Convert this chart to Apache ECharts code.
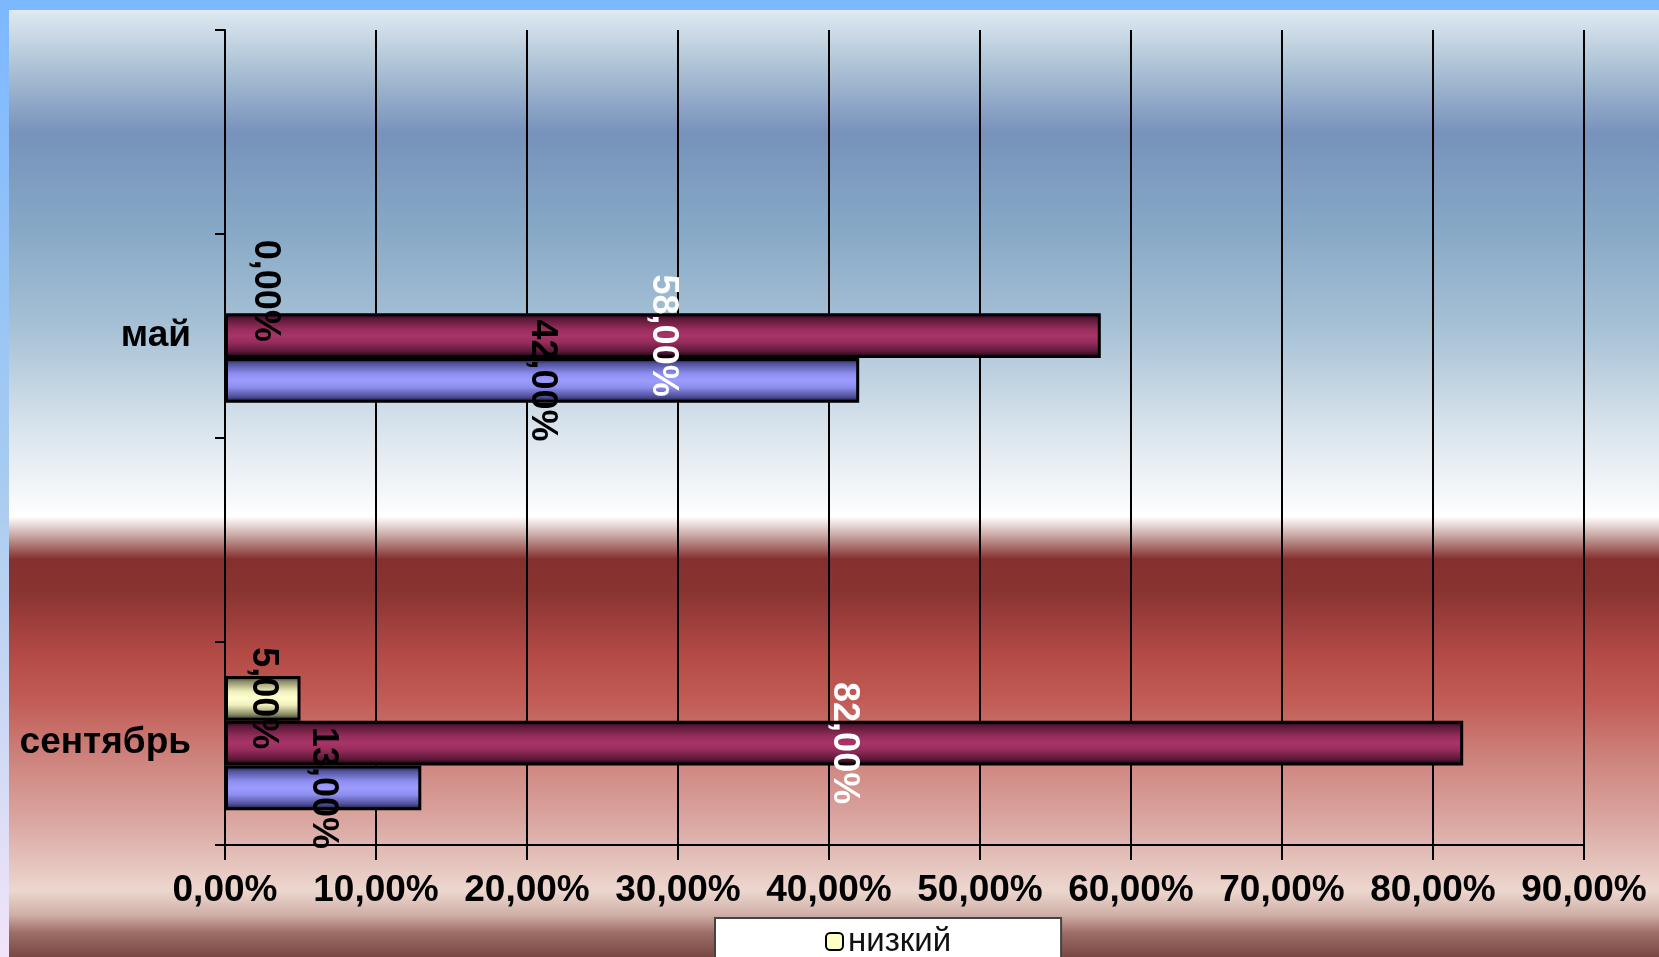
<!DOCTYPE html>
<html>
<head>
<meta charset="utf-8">
<script src="https://cdn.jsdelivr.net/npm/echarts@6/dist/echarts.min.js"></script>
<style>
  html, body { margin: 0; padding: 0; }
  #chart { width: 1659px; height: 957px; }
</style>
</head>
<body>
<div id="chart"></div>
<script>
// категории снизу вверх (пустые — как в исходной диаграмме)
const categories = ['сентябрь', '', 'май', '']
const seriesNames = ['низкий', 'средний', 'высокий']
const lowValues = [5, null, 0, null]
const midValues = [82, null, 58, null]
const highValues = [13, null, 42, null]
const xTicks = [0, 10, 20, 30, 40, 50, 60, 70, 80, 90]

const fmt = v => v.toFixed(2).replace('.', ',') + '%'

// цилиндрическая заливка: тёмные края, светлая середина
function barGradient(edge, dark, mid, center) {
  return new echarts.graphic.LinearGradient(0, 0, 0, 1, [
    { offset: 0, color: edge },
    { offset: 0.12, color: dark },
    { offset: 0.35, color: mid },
    { offset: 0.5, color: center },
    { offset: 0.65, color: mid },
    { offset: 0.86, color: dark },
    { offset: 1, color: edge }
  ])
}

const styles = [
  { fill: barGradient('#202018', '#8a8a66', '#f0f0bc', '#ffffd2'), label: '#000' },
  { fill: barGradient('#0a0005', '#5a1838', '#962d5c', '#a83468'), label: '#fff' },
  { fill: barGradient('#0c0c24', '#50509a', '#8e8ef0', '#9c9cff'), label: '#000' }
]

const chart = echarts.init(document.getElementById('chart'))

const bgGradient = new echarts.graphic.LinearGradient(0, 0, 0, 1, [
  { offset: 0.0, color: '#dfeaf2' },
  { offset: 0.05, color: '#b5c9da' },
  { offset: 0.13, color: '#7792bb' },
  { offset: 0.23, color: '#86a8c6' },
  { offset: 0.34, color: '#a8c2d6' },
  { offset: 0.44, color: '#d8e3ec' },
  { offset: 0.52, color: '#f8fafc' },
  { offset: 0.535, color: '#ffffff' },
  { offset: 0.555, color: '#c9a7a4' },
  { offset: 0.58, color: '#84302e' },
  { offset: 0.615, color: '#8a3432' },
  { offset: 0.68, color: '#b34a46' },
  { offset: 0.73, color: '#c25c56' },
  { offset: 0.795, color: '#cf8680' },
  { offset: 0.86, color: '#dba8a3' },
  { offset: 0.93, color: '#ecd7cf' },
  { offset: 0.955, color: '#d0b0a8' },
  { offset: 0.975, color: '#9c6c66' },
  { offset: 1, color: '#7a4844' }
])

const data = [lowValues, midValues, highValues]

const option = {
  animation: false,
  backgroundColor: '#7db8ff',
  graphic: [
    {
      type: 'rect', z: -10, silent: true,
      shape: { x: 0, y: 10, width: 9, height: 947 },
      style: {
        fill: new echarts.graphic.LinearGradient(0, 0, 0, 1, [
          { offset: 0, color: '#7db8ff' },
          { offset: 0.5, color: '#a8ccf0' },
          { offset: 1, color: '#f2e4f8' }
        ])
      }
    },
    {
      type: 'rect', z: -10, silent: true,
      shape: { x: 9, y: 10, width: 1650, height: 947 },
      style: { fill: bgGradient }
    }
  ],
  grid: { left: 225, right: 75, top: 30, bottom: 112 },
  legend: {
    data: [{ name: 'низкий', itemStyle: { color: '#ffffc8', borderColor: '#000', borderWidth: 2 } }],
    left: 715,
    top: 918,
    padding: [7, 110, 40, 110],
    itemWidth: 17,
    itemHeight: 17,
    itemGap: 6,
    backgroundColor: '#fff',
    borderColor: '#444',
    borderWidth: 2,
    textStyle: { fontFamily: 'Liberation Sans', fontSize: 33, color: '#111' }
  },
  xAxis: {
    type: 'value',
    min: 0,
    max: 90,
    interval: 10,
    axisLine: { show: true, lineStyle: { color: '#000', width: 2 } },
    axisTick: { show: true, length: 15, lineStyle: { color: '#000', width: 2 } },
    splitLine: { show: true, lineStyle: { color: '#000', width: 2 } },
    axisLabel: {
      margin: 27,
      formatter: v => xTicks.includes(v) ? fmt(v) : '',
      fontFamily: 'Liberation Sans',
      fontWeight: 'bold',
      fontSize: 37,
      color: '#000'
    }
  },
  yAxis: {
    type: 'category',
    data: categories,
    axisLine: { show: true, onZero: false, lineStyle: { color: '#000', width: 2 } },
    axisTick: { show: true, length: 10, lineStyle: { color: '#000', width: 2 } },
    axisLabel: {
      margin: 34,
      fontFamily: 'Liberation Sans',
      fontWeight: 'bold',
      fontSize: 37,
      color: '#000'
    }
  },
  series: seriesNames.map((name, i) => ({
    name: name,
    type: 'bar',
    barGap: '0%',
    barCategoryGap: '34%',
    data: data[i].map(v => (v === 0
      ? { value: v, itemStyle: { borderWidth: 0 }, label: { offset: [0, -40] } }
      : v)),
    itemStyle: { color: styles[i].fill, borderColor: '#000', borderWidth: 3 },
    label: {
      show: true,
      position: 'inside',
      rotate: -90,
      formatter: p => fmt(p.value),
      fontFamily: 'Liberation Sans',
      fontWeight: 'bold',
      fontSize: 36,
      color: styles[i].label
    }
  }))
}

chart.setOption(option)
</script>
</body>
</html>
